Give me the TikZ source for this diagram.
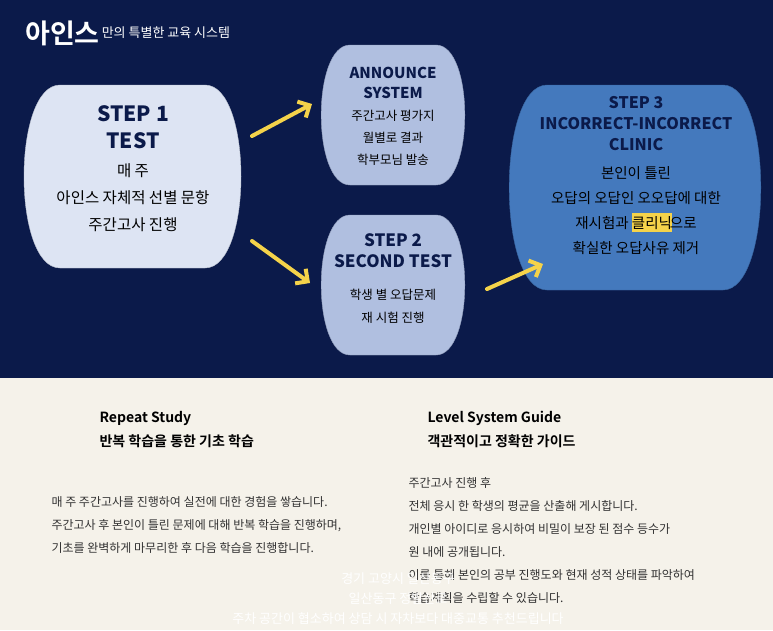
\documentclass[tikz,border=0pt]{standalone}
\usepackage{fontspec}
\setmainfont{Noto Sans CJK KR}
\newfontfamily\boldkr{Noto Sans CJK KR Bold}
\newfontfamily\blackkr{Noto Sans CJK KR Black}
\usetikzlibrary{positioning,arrows.meta}
\definecolor{navy}{HTML}{0B1A4A}
\definecolor{cream}{HTML}{F5F2EA}
\definecolor{paleblue}{HTML}{DDE4F3}
\definecolor{midblue}{HTML}{B0BFE0}
\definecolor{stepblue}{HTML}{4479BD}
\definecolor{arrowyellow}{HTML}{F5D34A}
\definecolor{bodygray}{HTML}{333333}
% barrel: x1,y1,x2,y2,bulge
\newcommand{\barrelbox}[6]{%
  \filldraw[fill=#6, draw=#6!85!black] (#1+#5,#2) -- (#3-#5,#2)
    .. controls (#3+0.2*#5,#2) and (#3+0.2*#5,#4) .. (#3-#5,#4)
    -- (#1+#5,#4)
    .. controls (#1-0.2*#5,#4) and (#1-0.2*#5,#2) .. (#1+#5,#2) -- cycle;}
\tikzset{
  title/.style={text=navy, align=center},
  body/.style={text=black, align=center},
  yarrow/.style={draw=arrowyellow, line width=4pt, line cap=round, -{Straight Barb[length=9pt,width=18pt]}},
  note/.style={font=\fontsize{12}{23}\selectfont, text=bodygray, anchor=north west, align=left},
  head/.style={font=\boldkr\fontsize{14}{24}\selectfont, text=black, anchor=north west, align=left}
}
\begin{document}
\begin{tikzpicture}[x=1pt,y=-1pt]
	
	\fill[navy] (0,0) rectangle (773,378);
	\fill[cream] (0,378) rectangle (773,630);
	\useasboundingbox (0,0) rectangle (773,630);
	
	\node[anchor=west, text=white, inner sep=0] (brand) at (25,33) {\boldkr\fontsize{27}{29}\selectfont 아인스};
	\node[anchor=west, text=white, inner sep=0] (brandsub) at (brand.east) {\,\fontsize{13}{15}\selectfont 만의 특별한 교육 시스템};
	
	% boxes
	\barrelbox{20}{85}{245}{268}{40}{paleblue}
	\barrelbox{318}{45}{468}{185}{32}{midblue}
	\barrelbox{318}{215}{468}{355}{32}{midblue}
	\barrelbox{505}{85}{765}{290}{42}{stepblue}
	
	\node[title, font=\blackkr\fontsize{21}{27}\selectfont] (step1) at (133,127) {STEP 1\\TEST};
	\node[body, font=\fontsize{15.5}{27}\selectfont, below=8pt of step1] (step1txt) {매 주\\아인스 자체적 선별 문항\\주간고사 진행};
	
	\node[title, font=\blackkr\fontsize{15}{20}\selectfont] (announce) at (393,83) {ANNOUNCE\\SYSTEM};
	\node[body, font=\fontsize{12.5}{22}\selectfont, below=4pt of announce] (announcetxt) {주간고사 평가지\\월별로 결과\\학부모님 발송};
	
	\node[title, font=\blackkr\fontsize{17}{21}\selectfont] (step2) at (393,251) {STEP 2\\SECOND TEST};
	\node[body, font=\fontsize{12.5}{23}\selectfont, below=14pt of step2] (step2txt) {학생 별 오답문제\\재 시험 진행};
	
	\node[title, font=\blackkr\fontsize{16}{21}\selectfont] (step3) at (636,124) {STEP 3\\INCORRECT-INCORRECT\\CLINIC};
	\node[body, font=\fontsize{14.5}{25}\selectfont, below=8pt of step3] (step3txt) {본인이 틀린\\오답의 오답인 오오답에 대한\\재시험과 \colorbox{arrowyellow}{\kern-3pt 클리닉\kern-3pt}\kern-2pt 으로\\확실한 오답사유 제거};
	
	% arrows
	\coordinate (a1s) at (252,136);
	\coordinate (a1e) at (312,104);
	\coordinate (a2s) at (252,241);
	\coordinate (a2e) at (310,283);
	\coordinate (a3s) at (487,289);
	\coordinate (a3e) at (543,264);
	\draw[yarrow] (a1s) -- (a1e);
	\draw[yarrow] (a2s) -- (a2e);
	\draw[yarrow] (a3s) -- (a3e);
	
	% bottom
	\node[head] (repeat) at (96,408) {Repeat Study\\반복 학습을 통한 기초 학습};
	\node[note] (repeattxt) at (48,493) {매 주 주간고사를 진행하여 실전에 대한 경험을 쌓습니다.\\주간고사 후 본인이 틀린 문제에 대해 반복 학습을 진행하며,\\기초를 완벽하게 마무리한 후 다음 학습을 진행합니다.};
	
	\node[head] (level) at (424,408) {Level System Guide\\객관적이고 정확한 가이드};
	\node[note] (leveltxt) at (405,474) {주간고사 진행 후\\전체 응시 한 학생의 평균을 산출해 게시합니다.\\개인별 아이디로 응시하여 비밀이 보장 된 점수 등수가\\원 내에 공개됩니다.\\이를 통해 본인의 공부 진행도와 현재 성적 상태를 파악하여\\학습계획을 수립할 수 있습니다.};
	
	\node[text=white, font=\fontsize{13}{20}\selectfont, align=center] (footer) at (398,599) {경기 고양시 일산동구\\일산동구 정발산로\\주차 공간이 협소하여 상담 시 자차보다 대중교통 추천드립니다};
	
\end{tikzpicture}
\end{document}
